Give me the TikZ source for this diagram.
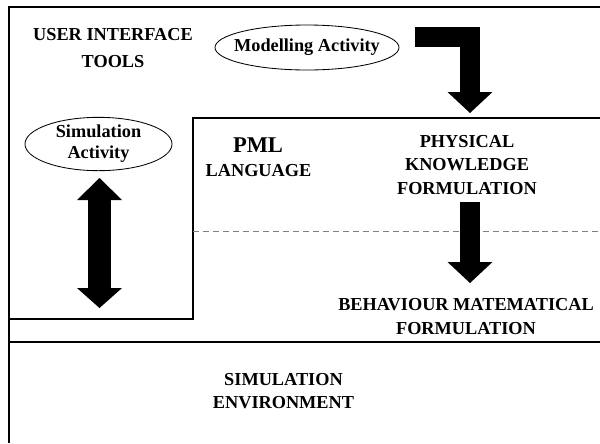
\documentclass[tikz,border=0pt]{standalone}
\usepackage{fontspec}
\setmainfont{Liberation Serif}
\usetikzlibrary{shapes.geometric}
\usetikzlibrary{arrows.meta}

\tikzset{
  frameline/.style={line width=1.5pt},
  caption/.style={font=\bfseries\fontsize{13}{16.7}\selectfont, align=center, inner sep=0pt},
  activity/.style={draw, ellipse, line width=0.6pt, inner sep=0pt,
    font=\bfseries\fontsize{13}{15}\selectfont, align=center},
  blockarrow/.style={line width=0.5cm, line join=miter,
    -{Triangle[width=1.125cm,length=0.525cm,line width=0pt]}},
}

\begin{document}
\begin{tikzpicture}[x=0.025cm,y=-0.025cm]
                \useasboundingbox (0,0) rectangle (600,443);

                % frames
                \draw[frameline] (600,7) -- (9,7) -- (9,443);
                \draw[frameline] (600,118) -- (193,118) -- (193,319) -- (9,319);
                \draw[frameline] (9,342) -- (600,342);
                \draw[gray,line width=0.7pt,dash pattern=on 4.3pt off 2.8pt] (193,231) -- (600,231);

                % texts
                \node[caption,font=\bfseries\fontsize{13}{19.2}\selectfont] (ui) at (113,48) {USER INTERFACE\\TOOLS};
                \node[caption,font=\bfseries\fontsize{13}{15}\selectfont] (modact) at (307,47.5) {Modelling Activity};
                \draw[line width=0.6pt] (modact.center) ellipse [x radius=92, y radius=22.5];
                \node[activity,minimum width=3.675cm,minimum height=1.3cm] (simact) at (98.5,144) {Simulation\\Activity};
                \node[caption,font=\bfseries\fontsize{16}{19}\selectfont] (pml) at (258,145.5) {PML};
                \node[caption] (lang) at (258.5,171) {LANGUAGE};
                \node[caption] (phys) at (467,165) {PHYSICAL\\KNOWLEDGE\\FORMULATION};
                \node[caption,font=\bfseries\fontsize{13}{17}\selectfont] (behav) at (466,316.5) {BEHAVIOUR MATEMATICAL\\FORMULATION};
                \node[caption,font=\bfseries\fontsize{13}{16.4}\selectfont] (simenv) at (283.5,391.5) {SIMULATION\\ENVIRONMENT};

                % block arrows
                \coordinate (modtail) at (415,37);
                \coordinate (modbend) at (470,37);
                \coordinate (modtip) at (470,113);
                \draw[blockarrow] (modtail) -- (modbend) -- (modtip);

                \coordinate (formtail) at (470,202);
                \coordinate (formtip) at (470,283);
                \draw[blockarrow] (formtail) -- (formtip);

                \coordinate (simtop) at (99.5,178);
                \coordinate (simbot) at (99.5,308);
                \draw[blockarrow,line width=0.55cm,
                    {Triangle[width=1.125cm,length=0.55cm,line width=0pt]}-{Triangle[width=1.125cm,length=0.5cm,line width=0pt]}]
                    (simtop) -- (simbot);
            \end{tikzpicture}
\end{document}
